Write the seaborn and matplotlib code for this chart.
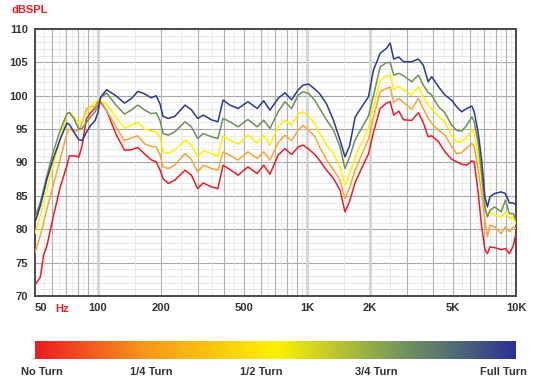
import numpy as np
import pandas as pd
import matplotlib
matplotlib.use("Agg")
import matplotlib.pyplot as plt
from matplotlib.colors import LinearSegmentedColormap
from matplotlib.ticker import FixedLocator, NullFormatter
import seaborn as sns

# frequency points (Hz)
freq = [50, 53, 55, 57, 61, 66, 71, 73, 77, 81, 84, 88, 92, 97, 100, 103, 110, 122,
        134, 145, 155, 167, 180, 190, 198, 205, 217, 233, 261, 280, 300, 319, 349,
        375, 397, 428, 468, 522, 578, 621, 665, 728, 784, 844, 909, 958, 1020, 1090,
        1150, 1240, 1340, 1440, 1520, 1600, 1700, 1830, 1970, 2080, 2240, 2400, 2500,
        2600, 2750, 2900, 3170, 3410, 3600, 3800, 3950, 4260, 4570, 4920, 5200, 5500,
        5820, 6150, 6310, 6600, 6850, 7100, 7300, 7500, 7900, 8500, 8900, 9300, 9700,
        10000]

full_turn = [81.0, 83.5, 85.5, 87.5, 90.5, 93.5, 95.9, 95.7, 94.5, 93.4, 93.3, 94.5, 95.5,
             96.3, 97.5, 99.8, 100.9, 100.0, 98.9, 99.6, 100.65, 100.3, 99.7, 100.0, 98.8,
             96.9, 96.6, 96.9, 98.6, 97.9, 96.6, 97.1, 96.4, 96.1, 99.35, 98.6, 98.1, 99.1,
             98.1, 99.25, 97.85, 99.6, 100.45, 99.4, 100.9, 101.6, 101.75, 101.0, 100.3,
             98.8, 96.3, 93.35, 90.85, 92.5, 96.8, 98.35, 99.85, 103.85, 106.35, 107.1,
             107.9, 105.5, 105.8, 105.1, 105.1, 105.5, 104.6, 102.1, 102.85, 101.35, 100.1,
             99.35, 98.35, 97.6, 98.1, 98.45, 97.6, 94.35, 90.35, 84.85, 83.35, 84.85,
             85.35, 85.6, 85.35, 83.95, 83.95, 83.6]

three_quarter = [81.75, 84.0, 86.0, 88.0, 91.5, 94.8, 97.3, 97.5, 96.5, 95.0, 95.1, 96.0,
                 96.8, 97.6, 98.5, 99.7, 100.4, 98.6, 97.25, 97.9, 98.6, 97.9, 97.3, 97.45,
                 96.3, 94.35, 94.1, 94.6, 96.1, 95.35, 93.6, 94.35, 93.85, 93.6, 96.6, 96.1,
                 95.35, 96.45, 95.35, 96.35, 95.1, 97.6, 99.1, 98.1, 100.1, 100.6, 100.35,
                 99.3, 98.1, 96.4, 94.85, 92.35, 89.1, 90.8, 93.4, 95.2, 97.0, 100.0, 104.35,
                 104.95, 105.0, 103.1, 103.35, 103.0, 102.1, 103.1, 101.6, 100.5, 100.1,
                 98.35, 97.45, 95.6, 94.8, 94.7, 95.6, 96.85, 96.1, 92.85, 88.35, 83.35,
                 81.85, 82.8, 83.35, 82.6, 84.35, 82.35, 82.35, 81.35]

half_turn = [79.4, 82.0, 84.0, 86.0, 89.5, 93.5, 97.2, 97.5, 96.8, 95.9, 96.2, 97.5, 98.3,
             99.0, 99.35, 99.2, 98.8, 96.8, 95.1, 95.6, 96.0, 95.0, 94.7, 94.6, 93.8, 91.6,
             91.35, 91.85, 93.35, 92.6, 90.85, 91.75, 91.35, 90.95, 93.95, 93.35, 92.75,
             94.1, 92.95, 94.1, 92.6, 95.35, 96.35, 95.6, 97.3, 97.6, 96.9, 95.8, 94.4,
             92.6, 91.35, 89.35, 86.6, 88.3, 90.8, 93.0, 95.2, 98.3, 102.35, 102.9, 103.1,
             101.0, 101.4, 100.85, 100.1, 101.35, 99.85, 98.6, 98.1, 96.85, 96.1, 94.0,
             93.1, 93.1, 93.8, 94.95, 94.35, 90.85, 87.35, 83.35, 82.1, 82.6, 82.1, 81.85,
             82.6, 81.6, 81.85, 80.75]

quarter_turn = [76.5, 79.0, 81.0, 83.0, 86.5, 90.5, 94.3, 95.0, 94.7, 94.8, 96.0, 98.0,
                98.4, 98.35, 99.0, 99.3, 97.8, 95.3, 93.3, 93.7, 94.0, 92.8, 92.4, 92.35,
                91.2, 89.35, 89.1, 89.6, 91.35, 90.45, 88.6, 89.6, 89.1, 88.85, 91.6, 91.1,
                90.35, 91.6, 90.6, 91.6, 90.35, 92.95, 94.1, 93.3, 94.85, 95.6, 94.8, 93.9,
                92.3, 90.4, 88.85, 87.35, 84.6, 86.3, 88.8, 91.2, 93.5, 96.8, 100.6, 101.1,
                101.3, 99.0, 99.6, 99.0, 97.95, 99.6, 98.1, 96.6, 95.85, 94.85, 94.1, 92.4,
                91.3, 91.5, 92.2, 92.85, 92.35, 88.85, 85.35, 81.35, 78.85, 80.6, 80.35,
                79.35, 80.35, 79.6, 80.35, 80.1]

no_turn = [71.65, 72.8, 76.2, 77.5, 81.75, 86.3, 89.5, 91.0, 91.0, 90.8, 92.5, 96.5, 97.4,
           98.2, 99.3, 99.0, 97.8, 94.25, 91.85, 91.9, 92.25, 91.3, 90.4, 90.1, 88.9, 87.6,
           86.85, 87.35, 88.85, 88.1, 86.1, 86.95, 86.35, 86.1, 89.6, 88.95, 88.1, 89.35,
           88.35, 89.6, 88.25, 91.1, 92.1, 91.2, 92.35, 92.6, 92.0, 91.2, 90.3, 88.85,
           87.6, 85.85, 82.6, 84.2, 87.0, 89.2, 91.3, 94.5, 98.1, 98.9, 99.1, 97.1, 97.7,
           96.4, 96.3, 97.45, 96.0, 93.85, 94.0, 93.1, 91.6, 90.5, 90.1, 89.75, 89.6, 90.25,
           90.1, 85.35, 80.35, 77.0, 76.35, 77.35, 77.25, 76.95, 77.1, 76.35, 77.5, 79.35]

turns = ["No Turn", "1/4 Turn", "1/2 Turn", "3/4 Turn", "Full Turn"]
series = [no_turn, quarter_turn, half_turn, three_quarter, full_turn]
colors = ["#ec1c24", "#f9a533", "#fff200", "#6f9155", "#2b3990"]

df = pd.concat([pd.DataFrame({"Freq": freq, "dB": s, "Turn": t})
                for t, s in zip(turns, series)])

sns.set_style("white")
plt.rcParams["font.family"] = ["Liberation Sans", "DejaVu Sans"]

fig = plt.figure(figsize=(5.4, 3.79), dpi=100)
ax = fig.add_axes([35 / 540, 1 - 296 / 379, 481 / 540, 267 / 379])

# grid first so it sits under the curves
for v in np.arange(70, 111, 1):
    ax.axhline(v, color="#e6e6e6", lw=0.6, zorder=0)
for v in np.arange(70, 111, 5):
    ax.axhline(v, color="#a8a8a8", lw=0.8, zorder=0)
minor_v = [55, 65, 75, 85, 95, 150, 250, 350, 450, 550, 650, 750, 850, 950,
           1500, 2500, 3500, 4500, 5500, 6500, 7500, 8500, 9500]
major_v = [60, 70, 80, 90, 200, 300, 400, 500, 600, 700, 800, 900,
           3000, 4000, 5000, 6000, 7000, 8000, 9000]
for v in minor_v:
    ax.axvline(v, color="#e6e6e6", lw=0.6, zorder=0)
for v in major_v:
    ax.axvline(v, color="#b0b0b0", lw=0.8, zorder=0)
for v in [100, 1000, 2000]:
    ax.axvline(v, color="#d4d4d4", lw=2.0, zorder=0)

sns.lineplot(data=df, x="Freq", y="dB", hue="Turn", palette=colors,
             hue_order=turns, linewidth=1.1, legend=False, ax=ax, zorder=3)

ax.set_xscale("log")
ax.set_xlim(50, 10000)
ax.set_ylim(70, 110)
ax.set_xlabel("")
ax.set_ylabel("")
ax.xaxis.set_major_locator(FixedLocator([50, 100, 200, 500, 1000, 2000, 5000, 10000]))
ax.xaxis.set_minor_locator(FixedLocator([]))
ax.xaxis.set_minor_formatter(NullFormatter())
ax.set_xticklabels(["50", "100", "200", "500", "1K", "2K", "5K", "10K"])
ax.set_yticks(np.arange(70, 111, 5))
ax.tick_params(length=0, labelsize=8, colors="#333333", pad=5)
for lab in ax.get_xticklabels() + ax.get_yticklabels():
    lab.set_fontweight("bold")
ax.get_xticklabels()[0].set_horizontalalignment("left")
for sp in ax.spines.values():
    sp.set_color("#4a4a4a")
    sp.set_linewidth(1.4)

fig.text(12 / 540, 1 - 10 / 379, "dBSPL", color="#ec1c24", fontsize=8,
         fontweight="bold", va="center", ha="left")
fig.text(62 / 540, 1 - 309 / 379, "Hz", color="#ec1c24", fontsize=8,
         fontweight="bold", va="center", ha="center")

# colour scale bar
cax = fig.add_axes([35 / 540, 1 - 359 / 379, 481 / 540, 18 / 379])
cmap = LinearSegmentedColormap.from_list(
    "turns", [(0.0, "#ec1c24"), (0.22, "#f7941d"), (0.5, "#fff200"),
              (0.75, "#7a9a5a"), (0.88, "#4f6a78"), (1.0, "#2e3192")])
cax.imshow(np.linspace(0, 1, 512)[None, :], aspect="auto", cmap=cmap)
cax.set_axis_off()

label_x = [42, 151, 261, 376, 503]
for t, xp in zip(turns, label_x):
    fig.text(xp / 540, 1 - 372 / 379, t, color="#333333", fontsize=8,
             fontweight="bold", ha="center", va="center")

fig.savefig("out.png", dpi=100)
